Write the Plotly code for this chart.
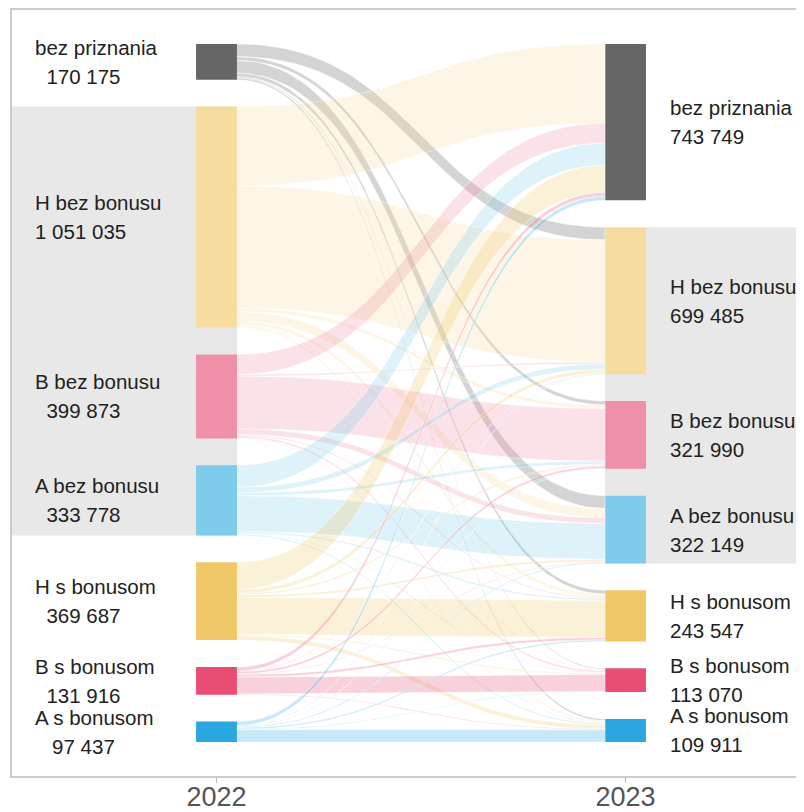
import numpy as np
import plotly.graph_objects as go

years = ["2022", "2023"]
categories = ["bez priznania", "H bez bonusu", "B bez bonusu", "A bez bonusu",
              "H s bonusom", "B s bonusom", "A s bonusom"]
totals_2022 = [170175, 1051035, 399873, 333778, 369687, 131916, 97437]
totals_2023 = [743749, 699485, 321990, 322149, 243547, 113070, 109911]

# flows from a 2022 category (list name) to each 2023 category (list position)
flow_bez_priznania = [0, 60210, 18140, 60530, 17480, 5120, 8695]
flow_h_bez = [376420, 581960, 17230, 44870, 16350, 5980, 8225]
flow_b_bez = [95310, 8120, 250460, 26740, 5890, 9870, 3483]
flow_a_bez = [104680, 25340, 14920, 170110, 8230, 3160, 7338]
flow_h_s = [128960, 17830, 8210, 12140, 176250, 6020, 20277]
flow_b_s = [19240, 2980, 10870, 3050, 12160, 79880, 3736]
flow_a_s = [19139, 3045, 2160, 4709, 7187, 3040, 58157]

node_colors = ["#666666", "#F7DCA0", "#F08FA8", "#7FCBEB", "#F0C868", "#E84E74", "#2AA6E0"]

flows = [flow_bez_priznania, flow_h_bez, flow_b_bez, flow_a_bez, flow_h_s, flow_b_s, flow_a_s]
n = len(categories)
total = sum(totals_2022)
gap = 0.05 * total
w = 0.1  # stratum width (x units)


def stack(vals):
    tops, y = [], 0.0
    for v in vals:
        tops.append(y)
        y += v + gap
    return tops


tops22 = stack(totals_2022)
tops23 = stack(totals_2023)
H = tops22[-1] + totals_2022[-1]
pad = 0.0487 * H


def rgba(hexc, a):
    h = hexc.lstrip("#")
    return f"rgba({int(h[0:2],16)},{int(h[2:4],16)},{int(h[4:6],16)},{a})"


# flow positions at source and target
src_pos, tgt_pos = {}, {}
for i in range(n):
    y = tops22[i]
    for j in range(n):
        v = flows[i][j]
        if v > 0:
            src_pos[(i, j)] = (y, y + v)
            y += v
for j in range(n):
    y = tops23[j]
    for i in range(n):
        v = flows[i][j]
        if v > 0:
            tgt_pos[(i, j)] = (y, y + v)
            y += v

x0, x1 = 1 + w / 2, 2 - w / 2
t = np.linspace(0, 1, 60)
bx = x0 + (x1 - x0) * (1.5 * t * (1 - t) + t ** 3)
by = 3 * (1 - t) * t ** 2 + t ** 3

fig = go.Figure()
for i in range(n):
    for j in range(n):
        if (i, j) not in src_pos:
            continue
        sa, sb = src_pos[(i, j)]
        ta, tb = tgt_pos[(i, j)]
        top = sa + (ta - sa) * by
        bot = sb + (tb - sb) * by
        xs = np.concatenate([bx, bx[::-1]])
        ys = np.concatenate([top, bot[::-1]])
        fig.add_trace(go.Scatter(
            x=xs, y=ys, mode="lines", fill="toself",
            fillcolor=rgba(node_colors[i], 0.26 if i else 0.28),
            line=dict(color="rgba(255,255,255,0.75)", width=0.6),
            hoverinfo="skip", showlegend=False))

fig.add_trace(go.Bar(x=[1] * n, y=totals_2022, base=tops22, width=w,
                     marker=dict(color=node_colors, line=dict(width=0)),
                     hoverinfo="skip", showlegend=False))
fig.add_trace(go.Bar(x=[2] * n, y=totals_2023, base=tops23, width=w,
                     marker=dict(color=node_colors, line=dict(width=0)),
                     hoverinfo="skip", showlegend=False))

xmax = 0.5 + 792 / 409

shapes = [
    dict(type="rect", xref="x", yref="y", x0=0.5, x1=1 + w / 2,
         y0=tops22[1], y1=tops22[3] + totals_2022[3],
         fillcolor="#E8E8E8", line=dict(width=0), layer="below"),
    dict(type="rect", xref="x", yref="y", x0=2 - w / 2, x1=xmax,
         y0=tops23[1], y1=tops23[3] + totals_2023[3],
         fillcolor="#E8E8E8", line=dict(width=0), layer="below"),
]

font = dict(family="Liberation Sans, Arial, sans-serif", size=20.5, color="#222222")


def fmt(v):
    return f"{v:,}".replace(",", " ")


ann = []
for k in range(n):
    c = tops22[k] + totals_2022[k] / 2
    ann.append(dict(x=0.5513, y=c, xref="x", yref="y", text=categories[k], showarrow=False,
                    xanchor="left", yanchor="middle", yshift=14.5, font=font))
    ann.append(dict(x=0.5513, y=c, xref="x", yref="y",
                    text=fmt(totals_2022[k]).rjust(9, "\u00a0"), showarrow=False,
                    xanchor="left", yanchor="middle", yshift=-14.5, font=font))
    c2 = tops23[k] + totals_2023[k] / 2
    ann.append(dict(x=2.104, y=c2, xref="x", yref="y", text=categories[k], showarrow=False,
                    xanchor="left", yanchor="middle", yshift=14.5, font=font))
    ann.append(dict(x=2.104, y=c2, xref="x", yref="y", text=fmt(totals_2023[k]), showarrow=False,
                    xanchor="left", yanchor="middle", yshift=-14.5, font=font))

fig.update_layout(
    width=796, height=804,
    margin=dict(l=4, r=0, t=2, b=36),
    paper_bgcolor="white", plot_bgcolor="white",
    barmode="overlay", showlegend=False,
    shapes=shapes, annotations=ann,
    xaxis=dict(range=[0.5, xmax], tickvals=[1, 2], ticktext=years,
               ticks="outside", ticklen=5, tickcolor="#bbbbbb", tickwidth=1,
               ticklabelstandoff=-9,
               showline=True, linecolor="#cccccc", linewidth=1.5, mirror=True,
               showgrid=False, zeroline=False, automargin=False,
               tickfont=dict(family="Liberation Sans, Arial, sans-serif", size=27, color="#555555")),
    yaxis=dict(range=[H + pad, -pad], showticklabels=False, ticks="",
               showline=True, linecolor="#cccccc", linewidth=1.5,
               showgrid=False, zeroline=False, automargin=False),
)

fig.write_html("out.html")
